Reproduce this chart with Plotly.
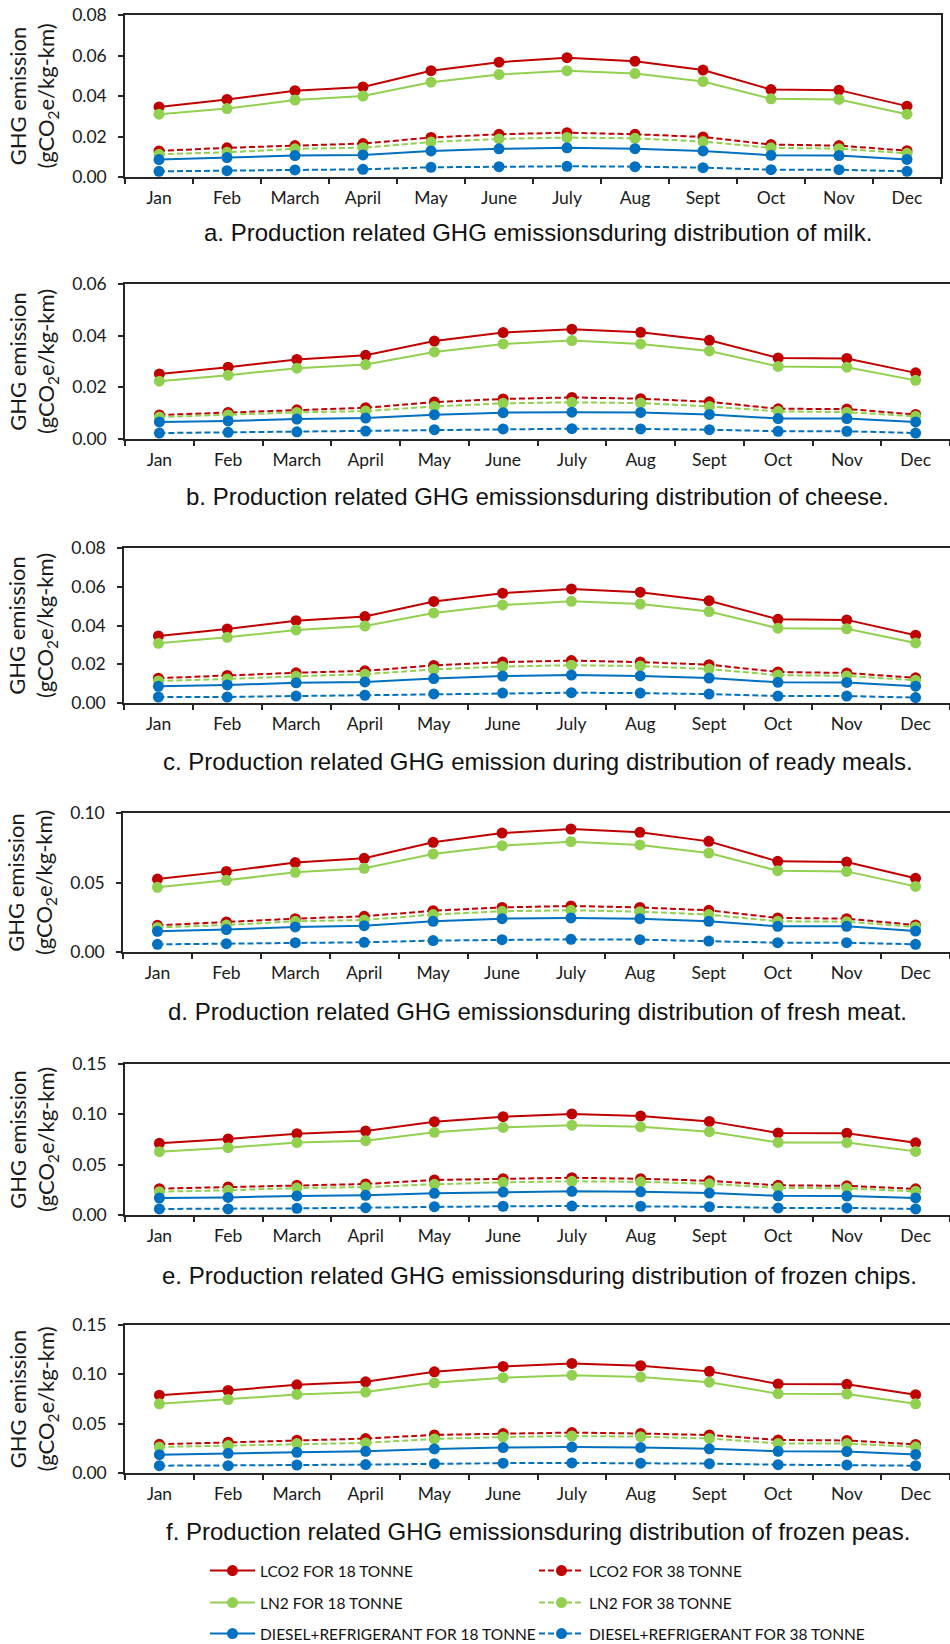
import plotly.graph_objects as go

months = ["Jan", "Feb", "March", "April", "May", "June", "July", "Aug", "Sept", "Oct", "Nov", "Dec"]

series_names = ["LCO2 FOR 18 TONNE", "LCO2 FOR 38 TONNE",
                "LN2 FOR 18 TONNE", "LN2 FOR 38 TONNE",
                "DIESEL+REFRIGERANT FOR 18 TONNE", "DIESEL+REFRIGERANT FOR 38 TONNE"]

# a. milk
milk_lco2_18 = [0.0346, 0.0383, 0.0426, 0.0445, 0.0525, 0.0567, 0.0589, 0.0572, 0.0528, 0.0432, 0.0429, 0.0350]
milk_lco2_38 = [0.0129, 0.0144, 0.0155, 0.0165, 0.0195, 0.0211, 0.0219, 0.0211, 0.0198, 0.0160, 0.0155, 0.0130]
milk_ln2_18 = [0.0310, 0.0338, 0.0380, 0.0400, 0.0468, 0.0506, 0.0525, 0.0511, 0.0472, 0.0386, 0.0383, 0.0310]
milk_ln2_38 = [0.0112, 0.0122, 0.0139, 0.0145, 0.0173, 0.0188, 0.0195, 0.0191, 0.0175, 0.0144, 0.0140, 0.0117]
milk_diesel_18 = [0.0086, 0.0096, 0.0106, 0.0109, 0.0129, 0.0139, 0.0144, 0.0140, 0.0129, 0.0107, 0.0106, 0.0087]
milk_diesel_38 = [0.0028, 0.0031, 0.0035, 0.0038, 0.0048, 0.0051, 0.0053, 0.0051, 0.0046, 0.0036, 0.0036, 0.0028]

# b. cheese
cheese_lco2_18 = [0.0252, 0.0278, 0.0308, 0.0324, 0.0379, 0.0412, 0.0425, 0.0413, 0.0382, 0.0314, 0.0312, 0.0256]
cheese_lco2_38 = [0.0093, 0.0103, 0.0113, 0.0121, 0.0143, 0.0155, 0.0161, 0.0156, 0.0144, 0.0117, 0.0116, 0.0095]
cheese_ln2_18 = [0.0224, 0.0247, 0.0274, 0.0288, 0.0337, 0.0368, 0.0381, 0.0368, 0.0341, 0.0281, 0.0278, 0.0227]
cheese_ln2_38 = [0.0085, 0.0093, 0.0103, 0.0108, 0.0126, 0.0138, 0.0142, 0.0139, 0.0126, 0.0107, 0.0104, 0.0088]
cheese_diesel_18 = [0.0066, 0.0070, 0.0077, 0.0081, 0.0094, 0.0102, 0.0104, 0.0103, 0.0095, 0.0079, 0.0079, 0.0066]
cheese_diesel_38 = [0.0023, 0.0026, 0.0028, 0.0031, 0.0036, 0.0039, 0.0040, 0.0039, 0.0036, 0.0030, 0.0030, 0.0023]

# c. ready meals
meals_lco2_18 = [0.0346, 0.0382, 0.0425, 0.0446, 0.0524, 0.0567, 0.0589, 0.0572, 0.0528, 0.0432, 0.0429, 0.0350]
meals_lco2_38 = [0.0128, 0.0142, 0.0156, 0.0166, 0.0194, 0.0211, 0.0219, 0.0211, 0.0198, 0.0160, 0.0155, 0.0130]
meals_ln2_18 = [0.0308, 0.0339, 0.0377, 0.0397, 0.0465, 0.0506, 0.0525, 0.0511, 0.0472, 0.0386, 0.0383, 0.0310]
meals_ln2_38 = [0.0114, 0.0124, 0.0138, 0.0149, 0.0173, 0.0188, 0.0195, 0.0191, 0.0175, 0.0144, 0.0140, 0.0117]
meals_diesel_18 = [0.0086, 0.0093, 0.0104, 0.0109, 0.0126, 0.0139, 0.0144, 0.0140, 0.0129, 0.0107, 0.0106, 0.0087]
meals_diesel_38 = [0.0031, 0.0031, 0.0036, 0.0040, 0.0047, 0.0051, 0.0053, 0.0051, 0.0046, 0.0036, 0.0036, 0.0028]

# d. fresh meat
meat_lco2_18 = [0.0525, 0.0580, 0.0643, 0.0674, 0.0789, 0.0856, 0.0885, 0.0861, 0.0796, 0.0652, 0.0647, 0.0530]
meat_lco2_38 = [0.0192, 0.0216, 0.0240, 0.0257, 0.0297, 0.0321, 0.0331, 0.0321, 0.0300, 0.0245, 0.0240, 0.0194]
meat_ln2_18 = [0.0465, 0.0516, 0.0573, 0.0602, 0.0705, 0.0765, 0.0794, 0.0770, 0.0712, 0.0585, 0.0580, 0.0472]
meat_ln2_38 = [0.0177, 0.0194, 0.0221, 0.0230, 0.0269, 0.0293, 0.0300, 0.0290, 0.0269, 0.0221, 0.0218, 0.0180]
meat_diesel_18 = [0.0149, 0.0161, 0.0180, 0.0189, 0.0221, 0.0240, 0.0245, 0.0240, 0.0221, 0.0185, 0.0185, 0.0151]
meat_diesel_38 = [0.0055, 0.0060, 0.0067, 0.0070, 0.0082, 0.0089, 0.0091, 0.0089, 0.0079, 0.0067, 0.0067, 0.0055]

# e. frozen chips
chips_lco2_18 = [0.0712, 0.0755, 0.0808, 0.0834, 0.0927, 0.0977, 0.1004, 0.0983, 0.0930, 0.0815, 0.0812, 0.0717]
chips_lco2_38 = [0.0262, 0.0278, 0.0295, 0.0308, 0.0348, 0.0360, 0.0370, 0.0360, 0.0340, 0.0295, 0.0290, 0.0260]
chips_ln2_18 = [0.0629, 0.0669, 0.0719, 0.0738, 0.0821, 0.0870, 0.0892, 0.0876, 0.0828, 0.0721, 0.0719, 0.0632]
chips_ln2_38 = [0.0232, 0.0245, 0.0268, 0.0278, 0.0305, 0.0325, 0.0335, 0.0330, 0.0310, 0.0270, 0.0265, 0.0235]
chips_diesel_18 = [0.0169, 0.0175, 0.0189, 0.0195, 0.0215, 0.0228, 0.0235, 0.0230, 0.0218, 0.0190, 0.0188, 0.0170]
chips_diesel_38 = [0.0060, 0.0060, 0.0066, 0.0073, 0.0083, 0.0087, 0.0089, 0.0087, 0.0082, 0.0070, 0.0070, 0.0060]

# f. frozen peas
peas_lco2_18 = [0.0789, 0.0836, 0.0894, 0.0924, 0.1026, 0.1080, 0.1110, 0.1087, 0.1030, 0.0903, 0.0899, 0.0794]
peas_lco2_38 = [0.0291, 0.0312, 0.0332, 0.0349, 0.0386, 0.0400, 0.0410, 0.0400, 0.0385, 0.0335, 0.0330, 0.0290]
peas_ln2_18 = [0.0701, 0.0745, 0.0796, 0.0820, 0.0914, 0.0966, 0.0991, 0.0972, 0.0920, 0.0804, 0.0800, 0.0701]
peas_ln2_38 = [0.0264, 0.0278, 0.0298, 0.0305, 0.0345, 0.0365, 0.0375, 0.0368, 0.0350, 0.0300, 0.0298, 0.0265]
peas_diesel_18 = [0.0186, 0.0200, 0.0210, 0.0220, 0.0244, 0.0258, 0.0263, 0.0258, 0.0245, 0.0220, 0.0218, 0.0188]
peas_diesel_38 = [0.0074, 0.0074, 0.0081, 0.0085, 0.0095, 0.0100, 0.0102, 0.0100, 0.0095, 0.0084, 0.0082, 0.0074]

captions = [
    "a. Production related GHG emissionsduring distribution of milk.",
    "b. Production related GHG emissionsduring distribution of cheese.",
    "c. Production related GHG emission during distribution of ready meals.",
    "d. Production related GHG emissionsduring distribution of fresh meat.",
    "e. Production related GHG emissionsduring distribution of frozen chips.",
    "f. Production related GHG emissionsduring distribution of frozen peas.",
]
y_max = [0.08, 0.06, 0.08, 0.10, 0.15, 0.15]
y_dtick = [0.02, 0.02, 0.02, 0.05, 0.05, 0.05]

panels = [
    [milk_lco2_18, milk_lco2_38, milk_ln2_18, milk_ln2_38, milk_diesel_18, milk_diesel_38],
    [cheese_lco2_18, cheese_lco2_38, cheese_ln2_18, cheese_ln2_38, cheese_diesel_18, cheese_diesel_38],
    [meals_lco2_18, meals_lco2_38, meals_ln2_18, meals_ln2_38, meals_diesel_18, meals_diesel_38],
    [meat_lco2_18, meat_lco2_38, meat_ln2_18, meat_ln2_38, meat_diesel_18, meat_diesel_38],
    [chips_lco2_18, chips_lco2_38, chips_ln2_18, chips_ln2_38, chips_diesel_18, chips_diesel_38],
    [peas_lco2_18, peas_lco2_38, peas_ln2_18, peas_ln2_38, peas_diesel_18, peas_diesel_38],
]

# ---- styling / layout (pixels) ----
W, H = 950, 1644
colors = ["#C00000", "#C00000", "#92D050", "#92D050", "#0070C0", "#0070C0"]
dashes = ["solid", "6px,3px", "solid", "6px,3px", "solid", "6px,3px"]
legend_ids = ["legend", "legend2", "legend3", "legend4", "legend5", "legend6"]
legend_pos = [(205, 1571), (534, 1571), (205, 1603), (534, 1603), (205, 1634), (534, 1634)]
plot_px = [  # left, right, top, bottom
    (125, 941, 15, 177),
    (125, 950, 284, 439),
    (124, 950, 548, 703),
    (123, 950, 813, 952),
    (125, 950, 1064, 1215),
    (125, 950, 1325, 1473),
]
caption_px = [(538, 233), (537, 496), (538, 761), (537, 1011), (539, 1275), (538, 1531)]

TICK_FONT = dict(family="Lato", size=17.5, color="#1a1a1a")
AXIS_COLOR = "#262626"

fig = go.Figure()
layout = dict(
    width=W, height=H, margin=dict(l=0, r=0, t=0, b=0, autoexpand=False),
    paper_bgcolor="white", plot_bgcolor="white",
    annotations=[],
)

for p, (series, (l, r, t, b)) in enumerate(zip(panels, plot_px)):
    sfx = "" if p == 0 else str(p + 1)
    for k, vals in enumerate(series):
        fig.add_trace(go.Scatter(
            x=months, y=vals, name=series_names[k],
            mode="lines+markers",
            line=dict(color=colors[k], width=2, dash=dashes[k]),
            marker=dict(color=colors[k], size=11),
            xaxis="x" + sfx, yaxis="y" + sfx,
            legend=legend_ids[k], showlegend=(p == 0),
        ))
    layout["xaxis" + sfx] = dict(
        domain=[l / W, r / W], anchor="y" + sfx, type="category",
        range=[-0.5, 11.5], tickson="boundaries", ticks="outside", ticklen=5,
        tickcolor=AXIS_COLOR, tickwidth=1.5,
        showline=True, linecolor=AXIS_COLOR, linewidth=1.5, mirror=True,
        showgrid=False, tickfont=TICK_FONT, ticklabelstandoff=4,
    )
    layout["yaxis" + sfx] = dict(
        domain=[1 - b / H, 1 - t / H], anchor="x" + sfx,
        range=[0, y_max[p]], dtick=y_dtick[p], tick0=0, tickformat=".2f",
        ticks="outside", ticklen=5, tickcolor=AXIS_COLOR, tickwidth=1.5,
        showline=True, linecolor=AXIS_COLOR, linewidth=1.5, mirror=(p == 0),
        showgrid=False, zeroline=False, tickfont=TICK_FONT, ticklabelstandoff=8,
        title=dict(text="GHG emission<br>(gCO<sub>2</sub>e/kg-km)",
                   font=dict(family="Lato", size=22, color="#1a1a1a"), standoff=11),
    )
    cx, cy = caption_px[p]
    layout["annotations"].append(dict(
        text=captions[p], xref="paper", yref="paper",
        x=cx / W, y=1 - cy / H, xanchor="center", yanchor="middle",
        showarrow=False, font=dict(family="Liberation Sans", size=24, color="#111111"),
    ))

for lid, (lx, ly) in zip(legend_ids, legend_pos):
    layout[lid] = dict(
        orientation="h", x=lx / W, xanchor="left",
        y=1 - ly / H, yanchor="middle",
        font=dict(family="Lato", size=15.5, color="#111111"),
        itemwidth=45, bgcolor="rgba(0,0,0,0)",
    )

fig.update_layout(**layout)
fig.write_html("out.html", config={"displayModeBar": False},
               post_script="document.body.style.margin='0';")
